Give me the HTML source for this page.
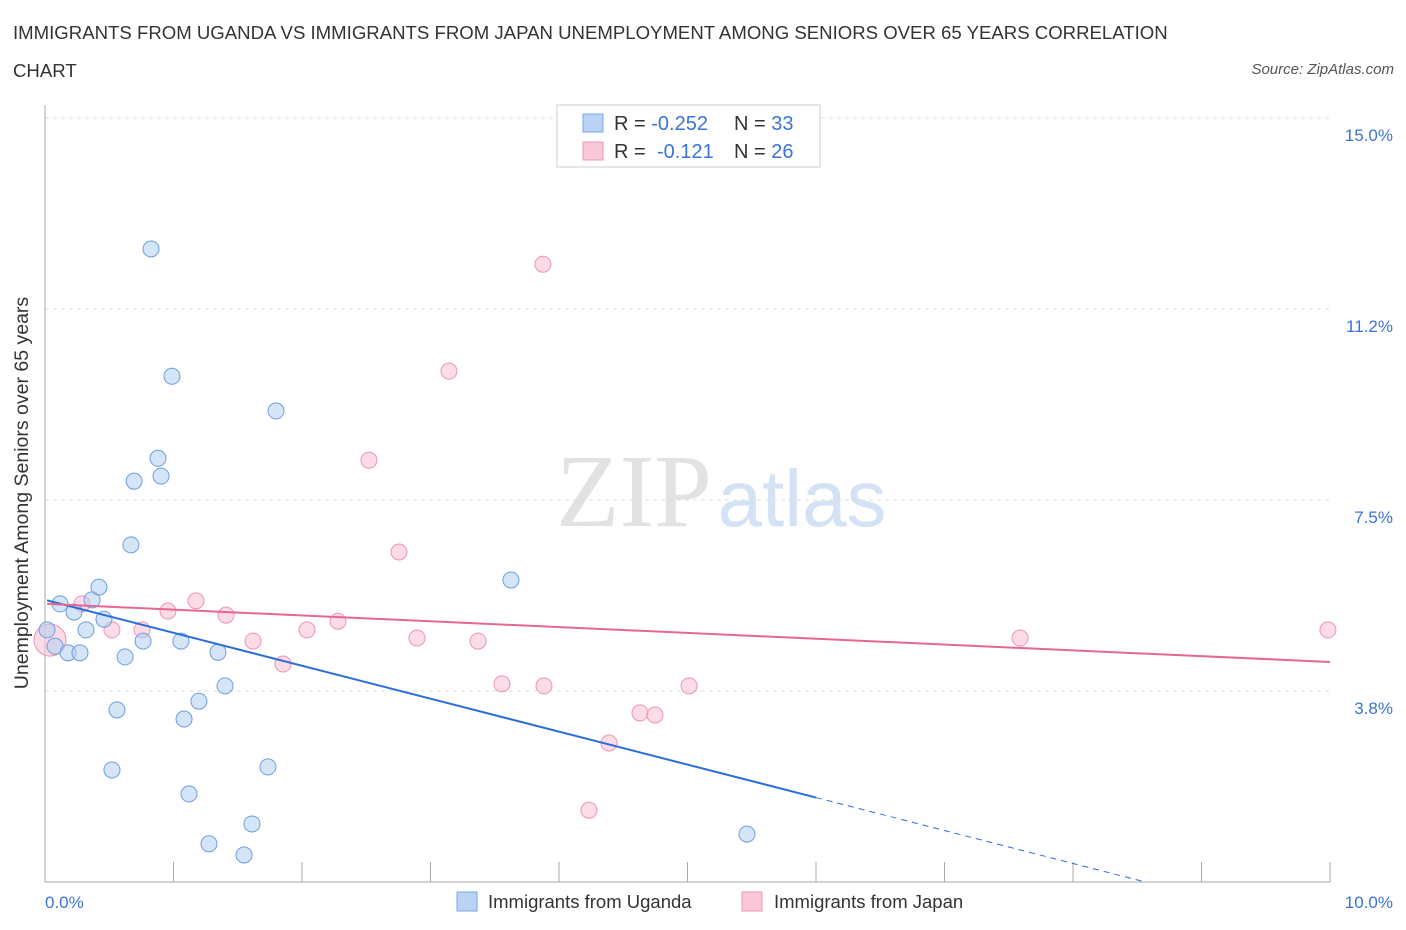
<!DOCTYPE html>
<html><head><meta charset="utf-8"><style>
body{margin:0;background:#fff;font-family:"Liberation Sans",sans-serif;}
#wrap{position:relative;width:1406px;height:930px;overflow:hidden;}
.title{position:absolute;left:13px;top:14px;font-size:18.6px;color:#333;line-height:38px;}
.src{position:absolute;right:12px;top:61px;font-size:15px;color:#555;font-style:italic;}
</style></head><body>
<div id="wrap">
<div class="title">IMMIGRANTS FROM UGANDA VS IMMIGRANTS FROM JAPAN UNEMPLOYMENT AMONG SENIORS OVER 65 YEARS CORRELATION<br>CHART</div>
<div class="src">Source: ZipAtlas.com</div>
<svg id="svg" width="1406" height="930" style="position:absolute;left:0;top:0">
<text x="634" y="526" font-family="Liberation Serif,serif" font-size="104" fill="#e2e2e2" text-anchor="middle">ZIP</text>
<text x="802" y="526" font-family="Liberation Sans,sans-serif" font-size="80" fill="#d3e2f4" text-anchor="middle">atlas</text>
<g id="grid"></g><g id="pts"></g><g id="lines"></g>
<text x="28" y="493" transform="rotate(-90 28 493)" font-size="19.5" fill="#333" text-anchor="middle">Unemployment Among Seniors over 65 years</text>
<text x="45" y="908" font-size="17" fill="#3a74d6">0.0%</text>
<text x="1393" y="908" font-size="17" fill="#3a74d6" text-anchor="end">10.0%</text>
<g>
<rect x="557" y="105" width="263" height="62" fill="#fff" stroke="#ccc"/>
<rect x="583" y="114" width="20" height="18" fill="#b9d3f5" stroke="#7ba6e5"/>
<rect x="583" y="142" width="20" height="18" fill="#f9c7d6" stroke="#ec9ab5"/>
<text x="614" y="130" font-size="20" fill="#333">R = <tspan fill="#3a74d6">-0.252</tspan><tspan x="734">N = </tspan><tspan fill="#3a74d6">33</tspan></text>
<text x="614" y="158" font-size="20" fill="#333">R = <tspan fill="#3a74d6" x="657">-0.121</tspan><tspan x="734">N = </tspan><tspan fill="#3a74d6">26</tspan></text>
</g>
<g>
<rect x="457" y="892" width="20" height="19" fill="#b9d3f5" stroke="#7ba6e5"/>
<text x="488" y="908" font-size="18.5" fill="#333">Immigrants from Uganda</text>
<rect x="742" y="892" width="20" height="19" fill="#f9c7d6" stroke="#ec9ab5"/>
<text x="774" y="908" font-size="18.5" fill="#333">Immigrants from Japan</text>
</g>
</svg>
</div>
<script>
const yTicks=[3.75,7.5,11.25,15];
const yTickLabels=["3.8%","7.5%","11.2%","15.0%"];
const xTicks=[0,1,2,3,4,5,6,7,8,9,10];
const ugX=[.016,.078,.117,.179,.226,.272,.319,.366,.420,.459,.521,.560,.623,.669,.693,.763,.825,.879,.903,.988,1.058,1.082,1.121,1.198,1.276,1.346,1.401,1.549,1.611,1.735,1.798,3.626,5.463];
const ugY=[4.95,4.63,5.46,4.50,5.30,4.50,4.95,5.54,5.79,5.16,2.20,3.38,4.42,6.62,7.87,4.73,12.43,8.32,7.97,9.93,4.73,3.20,1.73,3.55,0.75,4.51,3.85,0.53,1.14,2.26,9.25,5.93,0.94];
const jpX=[.039,.288,.521,.755,.957,1.175,1.409,1.619,1.852,2.039,2.280,2.521,2.755,2.895,3.144,3.370,3.556,3.875,3.883,4.233,4.389,4.630,4.747,5.012,7.588,9.984];
const jpY=[4.75,5.46,4.95,4.95,5.32,5.52,5.24,4.73,4.28,4.95,5.12,8.28,6.48,4.79,10.03,4.73,3.89,12.13,3.85,1.41,2.73,3.32,3.28,3.85,4.79,4.95];
const ugTrend=[5.54,-0.647];
const jpTrend=[5.46,-0.114];
const ugSolidEnd=6.0;
const NS="http://www.w3.org/2000/svg";
const X=v=>45+v*128.5, Y=v=>882-v*50.93;
function mk(tag,at,parent){const e=document.createElementNS(NS,tag);for(const k in at)e.setAttribute(k,at[k]);document.getElementById(parent).appendChild(e);return e;}
yTicks.forEach((t,i)=>{
 const l=mk('line',{x1:45,x2:1330,y1:Y(t),y2:Y(t),stroke:'#ddd','stroke-dasharray':'4,4'},'grid');
 
 
 const tx=mk('text',{x:1393,y:Y(t)+23,'font-size':17,fill:'#3a74d6','text-anchor':'end'},'grid');
 tx.textContent=yTickLabels[i];
 
 
});
const ax=mk('line',{x1:45,x2:1330,y1:882,y2:882,stroke:'#aaa'},'grid');


const ay=mk('line',{x1:45,x2:45,y1:105,y2:882,stroke:'#aaa'},'grid');


xTicks.forEach(t=>{
 const l=mk('line',{x1:X(t),x2:X(t),y1:862,y2:882,stroke:'#aaa'},'grid');
 
 
});
function pts(xs,ys,fill,stroke,name){
 xs.forEach((x,i)=>{
  const c=mk('circle',{cx:X(x),cy:Y(ys[i]),r:(i===0&&name==='japan-point')?16:8,fill:fill,'fill-opacity':0.55,stroke:stroke,'stroke-width':1},'pts');
  
  
 });
}
pts(jpX,jpY,'#f9c0d2','#ec94b2','japan-point');
pts(ugX,ugY,'#b3cff3','#6c9ee0','uganda-point');
const t1=mk('line',{x1:X(0.016),y1:Y(ugTrend[0]+ugTrend[1]*0.016),x2:X(ugSolidEnd),y2:Y(ugTrend[0]+ugTrend[1]*ugSolidEnd),stroke:'#2b6fd6','stroke-width':2},'lines');


const xz=-ugTrend[0]/ugTrend[1];
const t2=mk('line',{x1:X(ugSolidEnd),y1:Y(ugTrend[0]+ugTrend[1]*ugSolidEnd),x2:X(xz),y2:Y(0),stroke:'#2b6fd6','stroke-width':1,'stroke-dasharray':'6,5'},'lines');


const t3=mk('line',{x1:X(0.016),y1:Y(jpTrend[0]),x2:X(10),y2:Y(jpTrend[0]+jpTrend[1]*10),stroke:'#e56792','stroke-width':2},'lines');


</script>
</body></html>
